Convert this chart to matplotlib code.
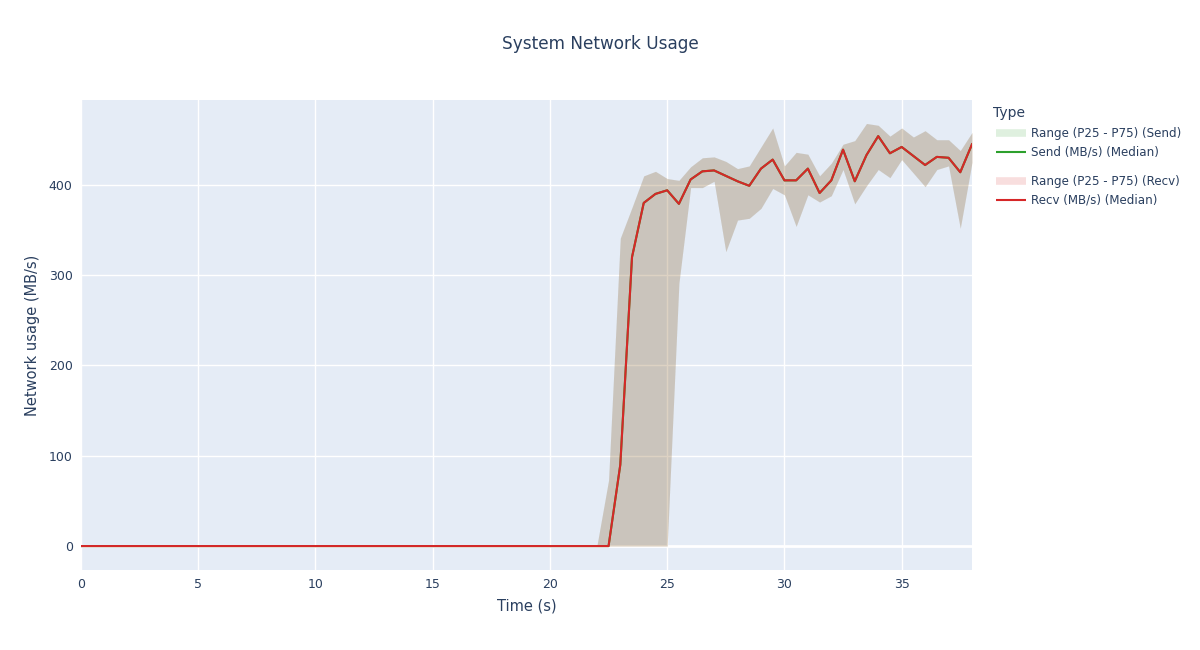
import matplotlib
import matplotlib.pyplot as plt
from matplotlib.lines import Line2D
import numpy as np

matplotlib.use('Agg')

# time axis, sampled every 0.5 s
time_s = np.arange(0, 38.5, 0.5)

n_idle_med = 46   # 0 .. 22.5 s at zero
recv_median = [0.0] * n_idle_med + [
    90, 320, 380, 390, 394, 379, 406, 415, 416, 410, 404, 399, 418, 428,
    405, 405, 418, 391, 405, 439, 404, 433, 454, 435, 442, 432, 422, 431,
    430, 414, 445,
]
n_idle_hi = 44    # 0 .. 21.5 s at zero
recv_p75 = [0.0] * n_idle_hi + [
    0, 73, 341, 375, 410, 415, 407, 405, 420, 430, 431, 426, 418, 421, 442,
    463, 421, 436, 434, 410, 424, 445, 449, 468, 466, 454, 463, 453, 460,
    450, 450, 438, 458,
]
n_idle_lo = 50    # 0 .. 24.5 s at zero
recv_p25 = [0.0] * n_idle_lo + [
    0, 291, 397, 397, 404, 326, 361, 363, 374, 396, 389, 354, 389, 381, 388,
    417, 379, 399, 417, 408, 428, 413, 398, 417, 421, 352, 425,
]

# send is drawn underneath recv and does not show through; same readings
send_median = list(recv_median)
send_p75 = list(recv_p75)
send_p25 = list(recv_p25)

legend_labels = ['Range (P25 - P75) (Send)', 'Send (MB/s) (Median)',
                 'Range (P25 - P75) (Recv)', 'Recv (MB/s) (Median)']

GREEN = '#2ca02c'
RED = '#d62728'
TEXT = '#2a3f5f'
BG = '#e5ecf6'
BAND_ALPHA = 0.15

plt.rcParams['font.family'] = ['DejaVu Sans']

W, H = 1200, 650
fig = plt.figure(figsize=(W / 100, H / 100), dpi=100)
ax = fig.add_axes([81 / W, 1 - 570 / H, 891 / W, 470 / H])
ax.set_facecolor(BG)

ax.fill_between(time_s, send_p25, send_p75, color=GREEN, alpha=BAND_ALPHA, linewidth=0)
ax.plot(time_s, send_median, color=GREEN, linewidth=1.5)
ax.fill_between(time_s, recv_p25, recv_p75, color=RED, alpha=BAND_ALPHA, linewidth=0)
ax.plot(time_s, recv_median, color=RED, linewidth=1.5)

ax.set_xlim(0, 38)
ax.set_ylim(-26.5, 494)
ax.set_xticks([0, 5, 10, 15, 20, 25, 30, 35])
ax.set_yticks([0, 100, 200, 300, 400])
ax.grid(True, color='white', linewidth=1)
ax.set_axisbelow(True)
ax.axhline(0, color='white', linewidth=2, zorder=0.5)
for s in ax.spines.values():
    s.set_visible(False)
ax.tick_params(length=0, labelsize=9, colors=TEXT, pad=6)

ax.set_xlabel('Time (s)', fontsize=10.5, color=TEXT, labelpad=5)
ax.set_ylabel('Network usage (MB/s)', fontsize=10.5, color=TEXT, labelpad=6)
fig.text(0.5, 1 - 44 / H, 'System Network Usage', ha='center', va='center',
         fontsize=12.2, color=TEXT)

# legend drawn by hand: plotly-style grouped entries with a gap between groups
fig.text(993 / W, 1 - 113 / H, 'Type', fontsize=10, color=TEXT, va='center')
rows_y = [133, 152, 181, 200]
styles = [dict(color=GREEN, alpha=BAND_ALPHA, linewidth=5.5),
          dict(color=GREEN, linewidth=1.5),
          dict(color=RED, alpha=BAND_ALPHA, linewidth=5.5),
          dict(color=RED, linewidth=1.5)]
for y, label, st in zip(rows_y, legend_labels, styles):
    yf = 1 - y / H
    fig.add_artist(Line2D([996 / W, 1026 / W], [yf, yf], solid_capstyle='butt', **st))
    fig.text(1031 / W, yf, label, fontsize=8.6, color=TEXT, va='center')

fig.savefig('out.png', dpi=100, facecolor='white')
